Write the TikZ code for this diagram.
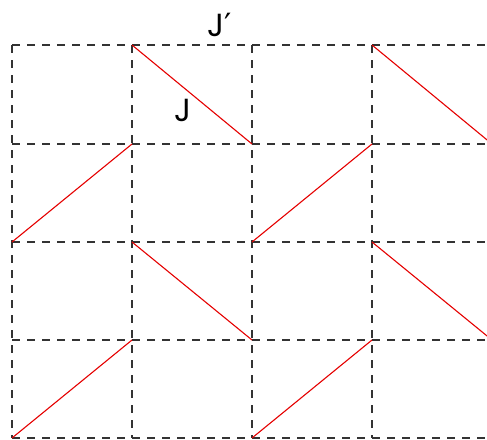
\documentclass[tikz,border=0pt]{standalone}
\usepackage{fontspec}
\setmainfont{Poppins}
\newfontfamily\dejavu{DejaVu Sans}
\begin{document}
\begin{tikzpicture}[x=1pt,y=-1pt,
  grid/.style={draw=black!80,line width=1.2pt,dash pattern=on 8pt off 7pt},
  edge/.style={draw=red!90!black,line width=1.1pt},
  lab/.style={font=\fontsize{32}{32}\selectfont,inner sep=0pt}]
\useasboundingbox (0,0) rectangle (487,439);
\begin{scope}
\clip (0,0) rectangle (487,439);
% grid
\foreach \y in {45,144,242,340,438} \draw[grid] (12,\y) -- (487,\y);
\foreach \x in {12,132,252,372} \draw[grid] (\x,45) -- (\x,438);
% grid points
\foreach \i/\x in {0/12,1/132,2/252,3/372,4/492}
  \foreach \j/\y in {0/45,1/144,2/242,3/340,4/438}
    \coordinate (p\i\j) at (\x,\y);
% red lines
\draw[edge] (p10) -- (p21);
\draw[edge] (p30) -- (p41);
\draw[edge] (p02) -- (p11);
\draw[edge] (p22) -- (p31);
\draw[edge] (p12) -- (p23);
\draw[edge] (p32) -- (p43);
\draw[edge] (p04) -- (p13);
\draw[edge] (p24) -- (p33);
\end{scope}
\node[lab] (jp) at (220,25) {J{\dejavu ′}};
\node[lab] (j) at (183,110) {J};
\end{tikzpicture}
\end{document}
